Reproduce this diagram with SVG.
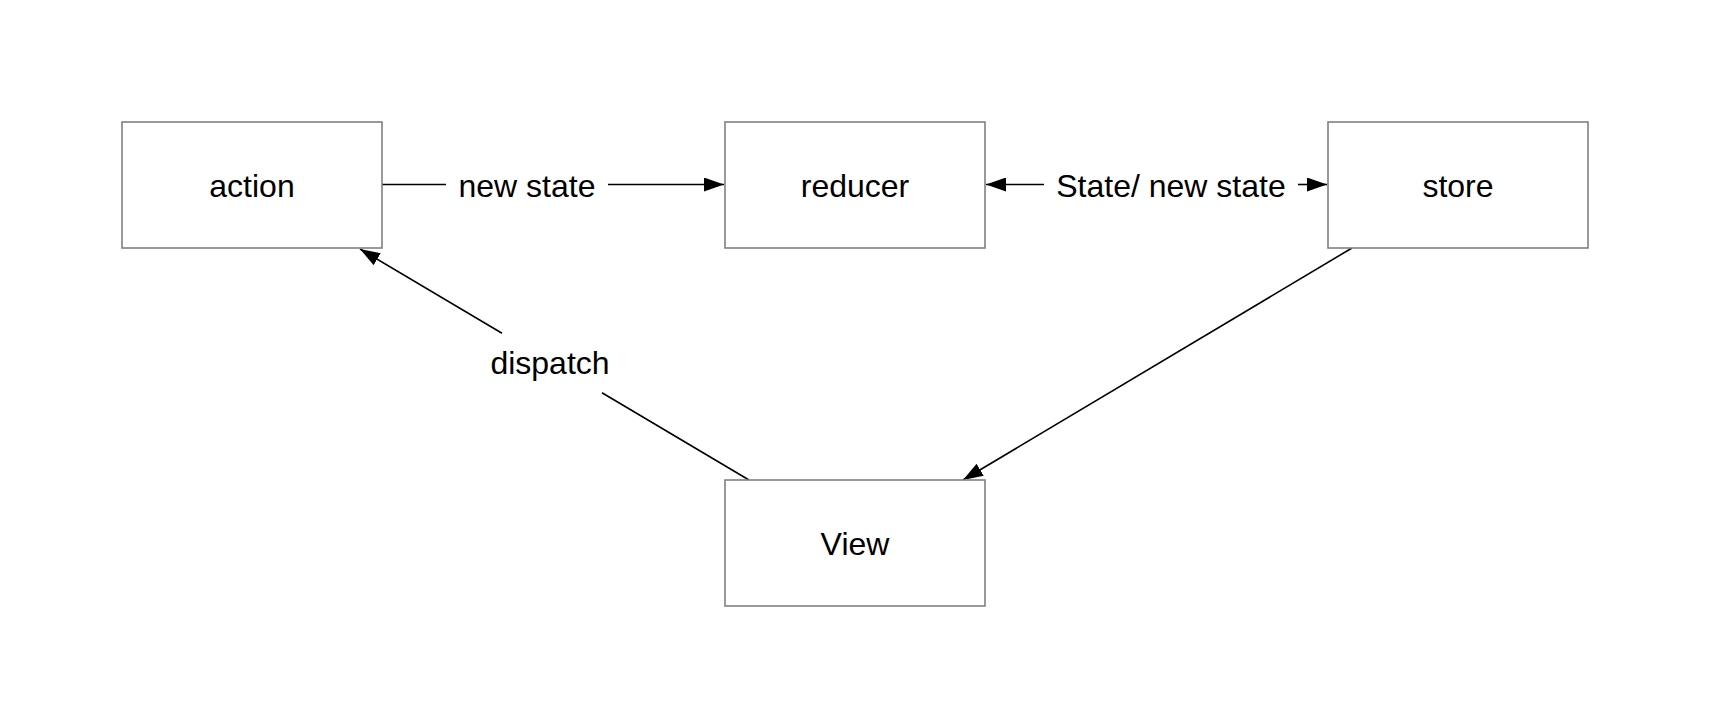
<svg xmlns="http://www.w3.org/2000/svg" width="1710" height="728" viewBox="0 0 1710 728">
<style>
.box{fill:#fff;stroke:#808080;stroke-width:1.6}
.lbl{font-family:"Liberation Sans",Arial,sans-serif;font-size:32px;fill:#000;text-anchor:middle}
.edge{fill:none;stroke:#000;stroke-width:1.6}
</style>
<defs>
<marker id="arr" markerUnits="userSpaceOnUse" markerWidth="20" markerHeight="14" refX="20" refY="7" orient="auto-start-reverse" viewBox="0 0 20 14">
<path d="M0,0 L20,7 L0,14 z" fill="#000"/>
</marker>
</defs>
<rect width="1710" height="728" fill="#fff"/>
<g id="connectors">
<g id="e-action-reducer">
<path class="edge" d="M382 184.5 H446 M608 184.5 H724" marker-end="url(#arr)"/>
<text class="lbl" x="527" y="196.5">new state</text>
</g>
<g id="e-reducer-store">
<path class="edge" d="M986 184.5 H1044" marker-start="url(#arr)"/>
<path class="edge" d="M1298 184.5 H1327" marker-end="url(#arr)"/>
<text class="lbl" x="1171" y="196.5">State/ new state</text>
</g>
<g id="e-store-view">
<path class="edge" d="M1352 248 L963 480" marker-end="url(#arr)"/>
</g>
<g id="e-view-action">
<path class="edge" d="M749 480 L602 392.7 M502 333.3 L360 249" marker-end="url(#arr)"/>
<text class="lbl" x="550" y="374">dispatch</text>
</g>
</g>
<g id="action">
<rect class="box" x="122" y="122" width="260" height="126"/>
<text class="lbl" x="252" y="196.5">action</text>
</g>
<g id="reducer">
<rect class="box" x="725" y="122" width="260" height="126"/>
<text class="lbl" x="855" y="196.5">reducer</text>
</g>
<g id="store">
<rect class="box" x="1328" y="122" width="260" height="126"/>
<text class="lbl" x="1458" y="196.5">store</text>
</g>
<g id="view">
<rect class="box" x="725" y="480" width="260" height="126"/>
<text class="lbl" x="855" y="554.5">View</text>
</g>
</svg>
